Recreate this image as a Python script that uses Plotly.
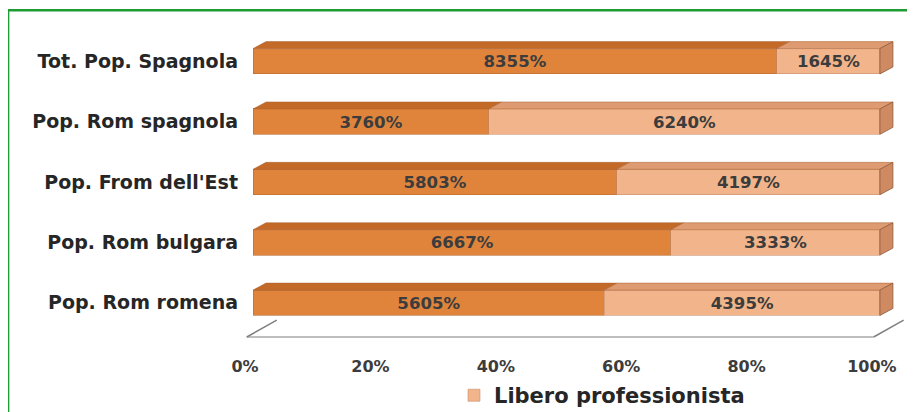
import plotly.graph_objects as go

# ---- data (bottom to top) ----
categories = ["Pop. Rom romena", "Pop. Rom bulgara", "Pop. From dell'Est",
              "Pop. Rom spagnola", "Tot. Pop. Spagnola"]
dipendente = [56.05, 66.67, 58.03, 37.60, 83.55]
libero = [43.95, 33.33, 41.97, 62.40, 16.45]
tick_vals = [0, 20, 40, 60, 80, 100]
tick_text = ["0%", "20%", "40%", "60%", "80%", "100%"]
series_names = ["Dipendente", "Libero professionista"]

# ---- styling / layout constants ----
W, H = 915, 412
OFF = 8                              # page body margin
X0_PX, X100_PX = 253 - OFF, 880 - OFF
UX = (X100_PX - X0_PX) / 100.0
XMIN, XMAX = -1.6, 104.0
Y_TOP_PX, Y_BOT_PX = 61 - OFF, 303 - OFF
UY = (Y_BOT_PX - Y_TOP_PX) / 4.0
YMIN, YMAX = -0.6, 4.70
mar_l = X0_PX + XMIN * UX
mar_r = W - (X0_PX + XMAX * UX)
mar_t = Y_TOP_PX - (YMAX - 4) * UY
mar_b = H - (Y_BOT_PX + (0 - YMIN) * UY)

BAR_W = 0.42
DX = 13 / UX
DY = 7 / UY

C_DARK = "#E0843C"
C_LIGHT = "#F2B48A"
C_DARK_TOP = "#C46A28"
C_LIGHT_TOP = "#DE9A70"
C_SIDE = "#CF8A62"

FONT = "DejaVu Sans"
ypos = list(range(len(categories)))

def lab(v):
    return f"{round(v * 100):d}%"

fig = go.Figure()
fig.add_trace(go.Bar(
    y=ypos, x=dipendente, orientation="h", name=series_names[0],
    marker=dict(color=C_DARK, line=dict(color="#B86A30", width=0.6)),
    width=BAR_W, text=[lab(v) for v in dipendente], textposition="inside",
    insidetextanchor="middle", textangle=0, showlegend=False,
    textfont=dict(family=FONT, size=18, color="#3C3C3C", weight="bold"),
))
fig.add_trace(go.Bar(
    y=ypos, x=libero, orientation="h", name=series_names[1],
    marker=dict(color=C_LIGHT, line=dict(color="#C89070", width=0.6)),
    width=BAR_W, text=[lab(v) for v in libero], textposition="inside",
    insidetextanchor="middle", textangle=0,
    textfont=dict(family=FONT, size=18, color="#3C3C3C", weight="bold"),
))

shapes = []
for i, (d, l) in enumerate(zip(dipendente, libero)):
    yt = i + BAR_W / 2
    yb = i - BAR_W / 2
    for a, b, col in [(0, d, C_DARK_TOP), (d, d + l, C_LIGHT_TOP)]:
        shapes.append(dict(
            type="path", xref="x", yref="y",
            path=f"M {a},{yt} L {a+DX},{yt+DY} L {b+DX},{yt+DY} L {b},{yt} Z",
            fillcolor=col, line=dict(color="#A86030", width=0.5), layer="above"))
    e = d + l
    shapes.append(dict(
        type="path", xref="x", yref="y",
        path=f"M {e},{yb} L {e},{yt} L {e+DX},{yt+DY} L {e+DX},{yb+DY} Z",
        fillcolor=C_SIDE, line=dict(color="#8C5A3C", width=0.8), layer="above"))

# floor lines
FDX = 30 / UX
FDY = 17 / UY
yf = YMIN + 2 / UY
shapes.append(dict(type="line", xref="x", yref="y", x0=-1, x1=99, y0=yf, y1=yf,
                   line=dict(color="#A8A8A8", width=1.5)))
for x in (-1, 99):
    shapes.append(dict(type="line", xref="x", yref="y", x0=x, x1=x + FDX,
                       y0=yf, y1=yf + FDY, line=dict(color="#808080", width=1.5)))

# green frame
px_to_paper_x = lambda px: (px - OFF - mar_l) / (W - mar_l - mar_r)
px_to_paper_y = lambda py: (H - mar_b - (py - OFF)) / (H - mar_t - mar_b)
shapes.append(dict(type="rect", xref="paper", yref="paper",
                   x0=px_to_paper_x(8), x1=px_to_paper_x(960),
                   y0=px_to_paper_y(470), y1=px_to_paper_y(10),
                   line=dict(color="#1E9B32", width=2.5), layer="below"))

fig.update_layout(
    width=W, height=H, barmode="stack", bargap=0.3,
    plot_bgcolor="white", paper_bgcolor="white",
    margin=dict(l=mar_l, r=mar_r, t=mar_t, b=mar_b, pad=0, autoexpand=False),
    shapes=shapes,
    font=dict(family=FONT, color="#262626"),
    xaxis=dict(range=[XMIN, XMAX], tickvals=tick_vals, ticktext=tick_text,
               showgrid=False, zeroline=False, showline=False, ticks="",
               ticklabelshift=-8, ticklabelstandoff=16,
               tickfont=dict(family=FONT, size=16, color="#3C3C3C", weight="bold")),
    yaxis=dict(range=[YMIN, YMAX], tickvals=ypos, ticktext=categories,
               showgrid=False, zeroline=False, showline=False, ticks="",
               ticklabelstandoff=4,
               tickfont=dict(family=FONT, size=19, color="#262626", weight="bold")),
    legend=dict(orientation="h", x=px_to_paper_x(454), xanchor="left",
                y=px_to_paper_y(396), yanchor="middle",
                font=dict(family=FONT, size=21, color="#262626", weight="bold"),
                bgcolor="rgba(0,0,0,0)"),
)

fig.write_html("out.html")
